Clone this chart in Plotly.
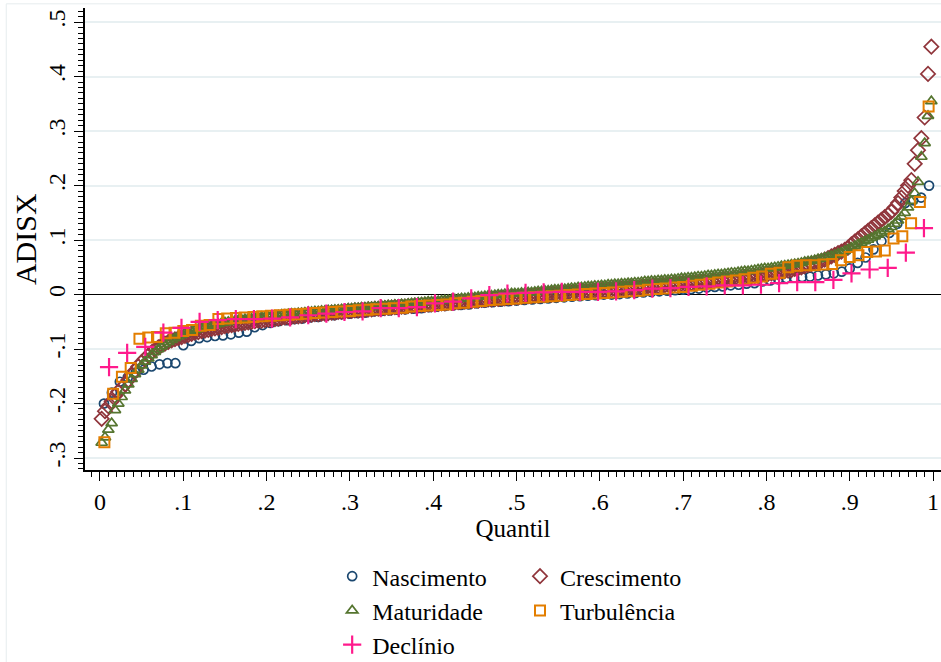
import plotly.graph_objects as go

# Sorted ADISX values per life-cycle stage
nascimento = [
    -0.200, -0.180, -0.160, -0.152, -0.143, -0.138, -0.132, -0.128, -0.126, -0.126,
    -0.093, -0.085, -0.080, -0.078, -0.076, -0.075, -0.073, -0.070, -0.068, -0.060,
    -0.056, -0.052, -0.049, -0.047, -0.045, -0.044, -0.042, -0.041, -0.039, -0.038,
    -0.036, -0.035, -0.034, -0.033, -0.031, -0.030, -0.029, -0.028, -0.027, -0.026,
    -0.025, -0.023, -0.022, -0.021, -0.020, -0.019, -0.018, -0.016, -0.015, -0.014,
    -0.013, -0.012, -0.011, -0.010, -0.009, -0.008, -0.007, -0.006, -0.005, -0.004,
    -0.003, -0.002, -0.001, 0.000, 0.000, 0.001, 0.002, 0.003, 0.004, 0.005,
    0.006, 0.007, 0.008, 0.009, 0.010, 0.011, 0.013, 0.014, 0.015, 0.017,
    0.018, 0.020, 0.021, 0.024, 0.026, 0.028, 0.030, 0.031, 0.032, 0.033,
    0.035, 0.037, 0.039, 0.042, 0.048, 0.058, 0.068, 0.083, 0.098, 0.113,
    0.130, 0.168, 0.173, 0.178, 0.200,
]

crescimento = [
    -0.228, -0.214, -0.205, -0.196, -0.186, -0.178, -0.172, -0.165, -0.157, -0.148,
    -0.140, -0.132, -0.124, -0.118, -0.112, -0.106, -0.101, -0.097, -0.093, -0.090,
    -0.087, -0.084, -0.082, -0.080, -0.078, -0.076, -0.074, -0.072, -0.070, -0.069,
    -0.067, -0.066, -0.065, -0.063, -0.062, -0.061, -0.060, -0.058, -0.057, -0.056,
    -0.055, -0.054, -0.053, -0.052, -0.051, -0.050, -0.049, -0.048, -0.048, -0.047,
    -0.046, -0.045, -0.045, -0.044, -0.043, -0.042, -0.042, -0.041, -0.040, -0.040,
    -0.039, -0.038, -0.037, -0.037, -0.036, -0.036, -0.035, -0.035, -0.034, -0.033,
    -0.033, -0.032, -0.032, -0.031, -0.030, -0.030, -0.029, -0.029, -0.028, -0.028,
    -0.027, -0.027, -0.026, -0.026, -0.025, -0.025, -0.024, -0.024, -0.023, -0.023,
    -0.022, -0.022, -0.021, -0.021, -0.020, -0.020, -0.019, -0.019, -0.018, -0.018,
    -0.017, -0.017, -0.016, -0.016, -0.015, -0.015, -0.014, -0.014, -0.013, -0.013,
    -0.012, -0.012, -0.011, -0.011, -0.010, -0.010, -0.009, -0.009, -0.008, -0.008,
    -0.007, -0.007, -0.006, -0.006, -0.005, -0.005, -0.004, -0.004, -0.003, -0.003,
    -0.002, -0.002, -0.001, -0.001, 0.000, 0.000, 0.001, 0.001, 0.002, 0.002,
    0.003, 0.003, 0.004, 0.004, 0.005, 0.005, 0.006, 0.006, 0.007, 0.007,
    0.008, 0.008, 0.009, 0.009, 0.010, 0.010, 0.011, 0.011, 0.012, 0.012,
    0.013, 0.013, 0.014, 0.014, 0.015, 0.015, 0.016, 0.016, 0.017, 0.017,
    0.018, 0.018, 0.019, 0.019, 0.020, 0.020, 0.021, 0.021, 0.022, 0.023,
    0.023, 0.024, 0.024, 0.025, 0.026, 0.026, 0.027, 0.028, 0.028, 0.029,
    0.030, 0.030, 0.031, 0.032, 0.033, 0.033, 0.034, 0.035, 0.036, 0.037,
    0.038, 0.039, 0.040, 0.041, 0.042, 0.043, 0.044, 0.045, 0.047, 0.048,
    0.050, 0.052, 0.054, 0.056, 0.058, 0.060, 0.062, 0.064, 0.067, 0.070,
    0.073, 0.076, 0.079, 0.082, 0.086, 0.092, 0.097, 0.102, 0.107, 0.112,
    0.117, 0.122, 0.127, 0.132, 0.137, 0.142, 0.147, 0.152, 0.160, 0.168,
    0.178, 0.190, 0.200, 0.210, 0.240, 0.265, 0.287, 0.325, 0.405, 0.455,
]

maturidade = [
    -0.272, -0.262, -0.248, -0.236, -0.212, -0.200, -0.188, -0.176, -0.165, -0.155,
    -0.146, -0.138, -0.130, -0.123, -0.117, -0.111, -0.105, -0.100, -0.095, -0.091,
    -0.087, -0.083, -0.080, -0.077, -0.074, -0.071, -0.069, -0.067, -0.065, -0.063,
    -0.061, -0.059, -0.058, -0.056, -0.055, -0.054, -0.052, -0.051, -0.050, -0.049,
    -0.048, -0.047, -0.046, -0.045, -0.044, -0.044, -0.043, -0.042, -0.041, -0.041,
    -0.040, -0.039, -0.039, -0.038, -0.037, -0.037, -0.036, -0.035, -0.035, -0.034,
    -0.034, -0.033, -0.032, -0.032, -0.031, -0.031, -0.030, -0.030, -0.029, -0.029,
    -0.028, -0.028, -0.027, -0.027, -0.026, -0.026, -0.025, -0.025, -0.024, -0.024,
    -0.023, -0.023, -0.022, -0.022, -0.021, -0.021, -0.020, -0.020, -0.019, -0.019,
    -0.018, -0.018, -0.017, -0.016, -0.016, -0.015, -0.015, -0.014, -0.013, -0.013,
    -0.012, -0.012, -0.011, -0.010, -0.010, -0.009, -0.009, -0.008, -0.007, -0.007,
    -0.006, -0.005, -0.005, -0.004, -0.004, -0.003, -0.002, -0.002, -0.001, 0.000,
    0.000, 0.001, 0.001, 0.002, 0.002, 0.002, 0.003, 0.003, 0.004, 0.004,
    0.005, 0.006, 0.006, 0.007, 0.007, 0.008, 0.009, 0.009, 0.010, 0.010,
    0.011, 0.012, 0.012, 0.013, 0.013, 0.014, 0.015, 0.015, 0.016, 0.016,
    0.017, 0.017, 0.018, 0.018, 0.019, 0.019, 0.020, 0.020, 0.021, 0.021,
    0.022, 0.022, 0.023, 0.024, 0.024, 0.025, 0.025, 0.026, 0.026, 0.027,
    0.027, 0.028, 0.028, 0.029, 0.030, 0.030, 0.031, 0.031, 0.032, 0.033,
    0.033, 0.034, 0.035, 0.035, 0.036, 0.037, 0.037, 0.038, 0.039, 0.040,
    0.040, 0.041, 0.042, 0.043, 0.043, 0.044, 0.045, 0.046, 0.047, 0.048,
    0.048, 0.049, 0.050, 0.051, 0.052, 0.053, 0.054, 0.055, 0.056, 0.057,
    0.058, 0.060, 0.061, 0.062, 0.063, 0.065, 0.066, 0.068, 0.069, 0.071,
    0.073, 0.075, 0.077, 0.080, 0.083, 0.086, 0.089, 0.092, 0.095, 0.098,
    0.101, 0.104, 0.107, 0.110, 0.113, 0.116, 0.120, 0.124, 0.130, 0.136,
    0.143, 0.150, 0.160, 0.172, 0.186, 0.207, 0.253, 0.278, 0.328, 0.355,
]

turbulencia = [
    -0.271, -0.182, -0.151, -0.135, -0.081, -0.079, -0.078, -0.071, -0.070, -0.067,
    -0.065, -0.057, -0.056, -0.045, -0.044, -0.043, -0.042, -0.041, -0.040, -0.039,
    -0.038, -0.037, -0.036, -0.035, -0.034, -0.033, -0.032, -0.031, -0.030, -0.029,
    -0.028, -0.027, -0.026, -0.025, -0.024, -0.022, -0.021, -0.020, -0.019, -0.018,
    -0.016, -0.015, -0.013, -0.012, -0.010, -0.009, -0.008, -0.007, -0.006, -0.005,
    -0.004, -0.003, -0.002, -0.001, 0.000, 0.001, 0.002, 0.003, 0.004, 0.005,
    0.006, 0.007, 0.009, 0.010, 0.011, 0.013, 0.014, 0.016, 0.018, 0.020,
    0.022, 0.024, 0.026, 0.028, 0.031, 0.033, 0.038, 0.040, 0.050, 0.053,
    0.054, 0.054, 0.055, 0.056, 0.063, 0.069, 0.072, 0.078, 0.079, 0.081,
    0.103, 0.107, 0.131, 0.170, 0.345,
]

declinio = [
    -0.133, -0.107, -0.096, -0.070, -0.061, -0.050, -0.047, -0.045, -0.045, -0.044,
    -0.042, -0.038, -0.035, -0.032, -0.031, -0.025, -0.025, -0.023, -0.016, -0.013,
    -0.007, -0.001, 0.002, 0.003, 0.004, 0.005, 0.005, 0.005, 0.006, 0.008,
    0.011, 0.012, 0.014, 0.015, 0.017, 0.017, 0.018, 0.021, 0.023, 0.023,
    0.027, 0.039, 0.046, 0.049, 0.077, 0.122,
]

x_tickvals = [0, 0.1, 0.2, 0.3, 0.4, 0.5, 0.6, 0.7, 0.8, 0.9, 1.0]
x_ticktext = ["0", ".1", ".2", ".3", ".4", ".5", ".6", ".7", ".8", ".9", "1"]
y_tickvals = [-0.3, -0.2, -0.1, 0, 0.1, 0.2, 0.3, 0.4, 0.5]
y_ticktext = ["-.3", "-.2", "-.1", "0", ".1", ".2", ".3", ".4", ".5"]

FONT = "Liberation Serif"


def quantiles(vals):
    n = len(vals)
    return [(i + 0.5) / n for i in range(n)]


series = [
    ("Nascimento", nascimento, "circle-open", 9, "#1a476f", 1.7, "legend"),
    ("Crescimento", crescimento, "diamond-open", 11, "#90353b", 1.7, "legend2"),
    ("Maturidade", maturidade, "triangle-up-open", 10, "#55752f", 1.7, "legend"),
    ("Turbulência", turbulencia, "square-open", 10, "#e37e00", 2.0, "legend2"),
    ("Declínio", declinio, "cross-thin", 13, "#ff1a8c", 2.2, "legend"),
]

fig = go.Figure()
for name, vals, sym, size, color, lw, leg in series:
    fig.add_trace(go.Scatter(
        x=quantiles(vals), y=vals, mode="markers", name=name,
        legend=leg, legendgroup=name,
        marker=dict(symbol=sym, size=size, color=color,
                    line=dict(color=color, width=lw)),
    ))

# faint outer region border (Stata graph region)
fig.add_shape(type="rect", xref="paper", yref="paper",
              x0=-0.092, x1=1.2, y0=-2, y1=1.009,
              line=dict(color="#e6ecee", width=1), layer="below")

# y-axis title
fig.add_annotation(text="ADISX", xref="paper", yref="paper",
                   x=-0.070, y=0.5, xanchor="center", yanchor="middle",
                   textangle=-90, showarrow=False,
                   font=dict(family=FONT, size=30, color="black"))

legend_common = dict(yref="container", xref="container", y=0.163,
                     xanchor="left", yanchor="top", orientation="v",
                     traceorder="grouped", tracegroupgap=0,
                     font=dict(family=FONT, size=24), bgcolor="rgba(0,0,0,0)")

fig.update_layout(
    width=941, height=662,
    margin=dict(l=85, r=0, t=8, b=192, autoexpand=False),
    paper_bgcolor="white", plot_bgcolor="white",
    font=dict(family=FONT, size=24, color="black"),
    showlegend=True,
    legend=dict(x=0.353, **legend_common),
    legend2=dict(x=0.5526, **legend_common),
    xaxis=dict(
        range=[-0.018, 1.0096], tickvals=x_tickvals, ticktext=x_ticktext,
        showgrid=False, zeroline=False, showline=True, linecolor="black",
        linewidth=1.5, ticks="outside", ticklen=9, tickwidth=1.2, tickcolor="black",
        minor=dict(dtick=0.01, ticks="outside", ticklen=5, tickwidth=1,
                   tickcolor="black", showgrid=False),
        title=dict(text="Quantil", font=dict(family=FONT, size=25), standoff=2),
        tickfont=dict(family=FONT, size=24),
    ),
    yaxis=dict(
        range=[-0.322, 0.526], tickvals=y_tickvals, ticktext=y_ticktext,
        tickangle=-90,
        showgrid=True, gridcolor="#e8f0f2", gridwidth=1.5,
        zeroline=True, zerolinecolor="black", zerolinewidth=1.3,
        showline=True, linecolor="black", linewidth=1.5,
        ticks="outside", ticklen=9, tickwidth=1.2, tickcolor="black",
        minor=dict(dtick=0.01, ticks="outside", ticklen=5, tickwidth=1,
                   tickcolor="black", showgrid=False),
        tickfont=dict(family=FONT, size=24),
    ),
)

fig.write_html("out.html")
